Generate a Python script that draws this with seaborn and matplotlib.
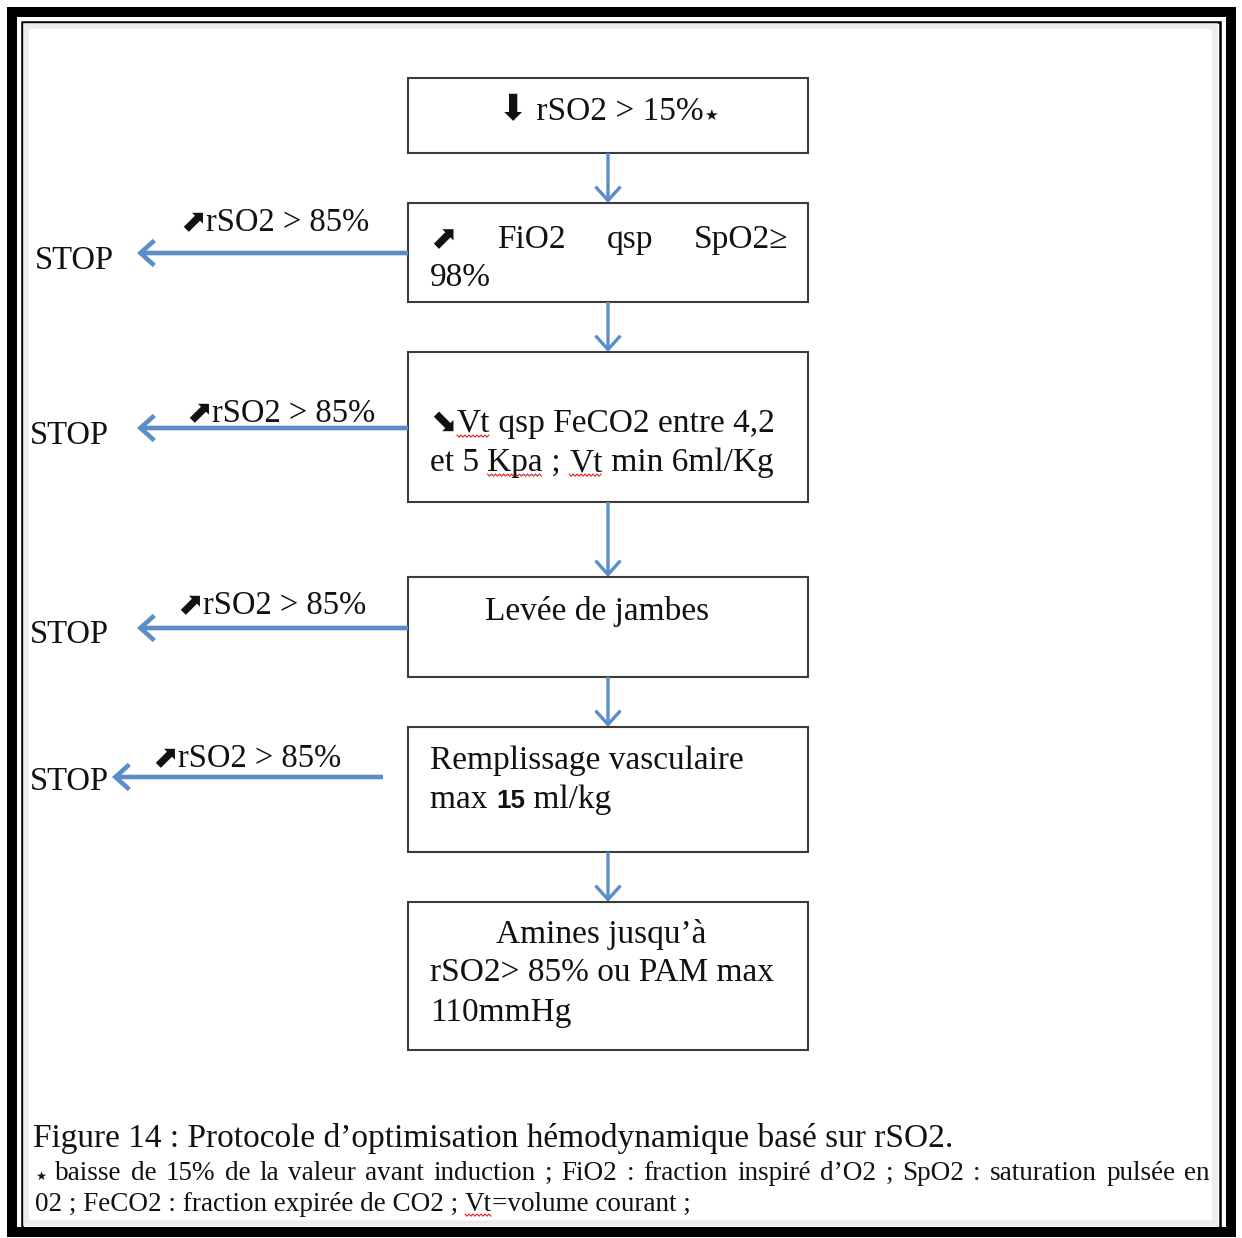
"""
Protocole d'optimisation hémodynamique basé sur rSO2 (Figure 14).

Organigramme redessiné avec matplotlib/seaborn : cases d'étapes,
flèches descendantes et sorties "STOP" à gauche.
"""

import re

import matplotlib
matplotlib.use("Agg")
import matplotlib.pyplot as plt
from matplotlib.patches import Rectangle, FancyArrowPatch
import numpy as np
import seaborn as sns

# --- contenu ---------------------------------------------------------------
# **...** : chiffres en gras (police sans), ~~...~~ : soulignement ondulé rouge
etapes = [
    ["⬇ rSO2 > 15%★"],
    ["⬈ FiO2 qsp SpO2≥", "98%"],
    ["⬊~~Vt~~ qsp FeCO2 entre 4,2", "et 5 ~~Kpa~~ ; ~~Vt~~ min 6ml/Kg"],
    ["Levée de jambes"],
    ["Remplissage vasculaire", "max **15** ml/kg"],
    ["Amines jusqu’à", "rSO2> 85% ou PAM max", "110mmHg"],
]
etapes_avec_arret = [1, 2, 3, 4]
condition_arret = "⬈rSO2 > 85%"
mot_arret = "STOP"
titre_figure = "Figure 14 : Protocole d’optimisation hémodynamique basé sur rSO2."
notes_figure = [
    "★ baisse de 15% de la valeur avant induction ; FiO2 : fraction inspiré d’O2 ; SpO2 : saturation pulsée en",
    "02 ; FeCO2 : fraction expirée de CO2 ; ~~Vt~~=volume courant ;",
]

# --- mise en page (pixels de l'image) ---------------------------------------
LARGEUR, HAUTEUR = 1242, 1238
CASE_X0, CASE_X1 = 408, 808
cases_y = [(78, 153), (203, 302), (352, 502), (577, 677), (727, 852), (902, 1050)]
lignes_y = [[120], [248, 286], [432, 471], [620], [769, 808], [943, 981, 1021]]
alignements = [["center"], ["justify", "left"], ["left", "left"], ["center"],
               ["left", "left"], ["center", "left", "left"]]
centres_x = [608, 608, 608, 597, 608, 601]
TEXTE_X0, TEXTE_X1 = 430, 788

arret_y = [253, 428, 628, 777]
arret_x0 = [408, 408, 408, 383]
arret_x1 = [137, 137, 137, 112]
stop_pos = [(35, 269), (30, 444), (30, 643), (30, 790)]
condition_pos = [(180, 231), (186, 422), (177, 614), (152, 767)]

BLEU = "#5b8ec8"
SERIF = ["Liberation Serif", "DejaVu Sans"]
TAILLE = 24
SYMBOLES = {"⬇": 26, "⬈": 23, "⬊": 23, "★": 11}


def decouper(ligne, taille):
    """Découpe une ligne en segments (texte, propriétés, ondulé?)."""
    segments = []
    for morceau in re.split(r"(\*\*.*?\*\*|~~.*?~~)", ligne):
        if not morceau:
            continue
        if morceau.startswith("**"):
            segments.append((morceau[2:-2], dict(family="Liberation Sans", weight="bold",
                                                  size=taille * 0.78), False))
            continue
        if morceau.startswith("~~"):
            segments.append((morceau[2:-2], dict(family=SERIF, size=taille), True))
            continue
        courant = ""
        for c in morceau:
            if c in SYMBOLES:
                if courant:
                    segments.append((courant, dict(family=SERIF, size=taille), False))
                    courant = ""
                segments.append((c, dict(family="DejaVu Sans", size=SYMBOLES[c] * taille / TAILLE),
                                 False))
            else:
                courant += c
        if courant:
            segments.append((courant, dict(family=SERIF, size=taille), False))
    return segments


def ondule(ax, x0, x1, y):
    xs = np.arange(x0, x1 + 0.1, 2.0)
    ys = y + np.where(np.arange(len(xs)) % 2 == 0, 0, 2.2)
    ax.plot(xs, ys, color="#d62020", lw=0.8, solid_joinstyle="miter")


def ecrire_segments(ax, x, y, segments, ha="left"):
    rendu = ax.figure.canvas.get_renderer()
    textes, soulignes, curseur = [], [], x
    for s, props, souligne in segments:
        t = ax.text(curseur, y, s, va="baseline", ha="left", color="#111111", **props)
        largeur = t.get_window_extent(rendu).width
        if souligne:
            soulignes.append((curseur, curseur + largeur))
        curseur += largeur
        textes.append(t)
    decalage = (curseur - x) / 2 if ha == "center" else 0
    for t in textes:
        t.set_x(t.get_position()[0] - decalage)
    for a, b in soulignes:
        ondule(ax, a - decalage, b - decalage, y + 3)
    return textes


def ecrire_justifie(ax, x0, x1, y, ligne, taille):
    rendu = ax.figure.canvas.get_renderer()
    mots = ligne.split(" ")
    largeurs = []
    for mot in mots:
        sonde = ax.text(0, 0, "")
        w = 0
        for s, props, _ in decouper(mot, taille):
            sonde.set_text(s)
            sonde.update(props)
            w += sonde.get_window_extent(rendu).width
        sonde.remove()
        largeurs.append(w)
    ecart = (x1 - x0 - sum(largeurs)) / max(len(mots) - 1, 1)
    pos = x0
    for mot, w in zip(mots, largeurs):
        ecrire_segments(ax, pos, y, decouper(mot, taille))
        pos += w + ecart


def fleche(ax, depart, arrivee, epaisseur, tete):
    ax.add_patch(FancyArrowPatch(
        depart, arrivee, arrowstyle=f"->,head_length={tete},head_width={tete * 0.9}",
        mutation_scale=10, color=BLEU, lw=epaisseur, shrinkA=0, shrinkB=0,
        joinstyle="miter", capstyle="butt"))


sns.set_theme(style="white")
plt.rcParams["font.family"] = SERIF

fig = plt.figure(figsize=(LARGEUR / 100, HAUTEUR / 100), dpi=100)
ax = fig.add_axes([0, 0, 1, 1])
ax.set_xlim(0, LARGEUR)
ax.set_ylim(HAUTEUR, 0)
ax.axis("off")

# cadre double
ax.add_patch(Rectangle((12, 12), 1219, 1220, fill=False, ec="black", lw=7.2))
ax.add_patch(Rectangle((21.5, 21.5), 1198, 1206, fill=False, ec="black", lw=1.8))
ax.add_patch(Rectangle((26, 26), 1189, 1197, fill=False, ec="#ececec", lw=4))

# cases et textes
for i, (y0, y1) in enumerate(cases_y):
    ax.add_patch(Rectangle((CASE_X0, y0), CASE_X1 - CASE_X0, y1 - y0,
                           fill=False, ec="#3c3c3c", lw=1.5))
    for ligne, y, mode in zip(etapes[i], lignes_y[i], alignements[i]):
        if mode == "justify":
            ecrire_justifie(ax, TEXTE_X0, TEXTE_X1, y, ligne, TAILLE)
        elif mode == "center":
            ecrire_segments(ax, centres_x[i], y, decouper(ligne, TAILLE), ha="center")
        else:
            ecrire_segments(ax, TEXTE_X0, y, decouper(ligne, TAILLE))
    if i + 1 < len(cases_y):
        fleche(ax, (608, y1), (608, cases_y[i + 1][0]), 2.4, 1.0)

# sorties STOP
for k, i in enumerate(etapes_avec_arret):
    fleche(ax, (arret_x0[k], arret_y[k]), (arret_x1[k], arret_y[k]), 3.3, 1.0)
    ecrire_segments(ax, *stop_pos[k], decouper(mot_arret, 23.5))
    ecrire_segments(ax, *condition_pos[k], decouper(condition_arret, 23.5))

# légende
ecrire_segments(ax, 33, 1147, decouper(titre_figure, 24))
ecrire_justifie(ax, 35, 1210, 1180, notes_figure[0], 19.5)
ecrire_segments(ax, 35, 1211, decouper(notes_figure[1], 19.5))

fig.savefig("out.png", dpi=100, facecolor="white")
